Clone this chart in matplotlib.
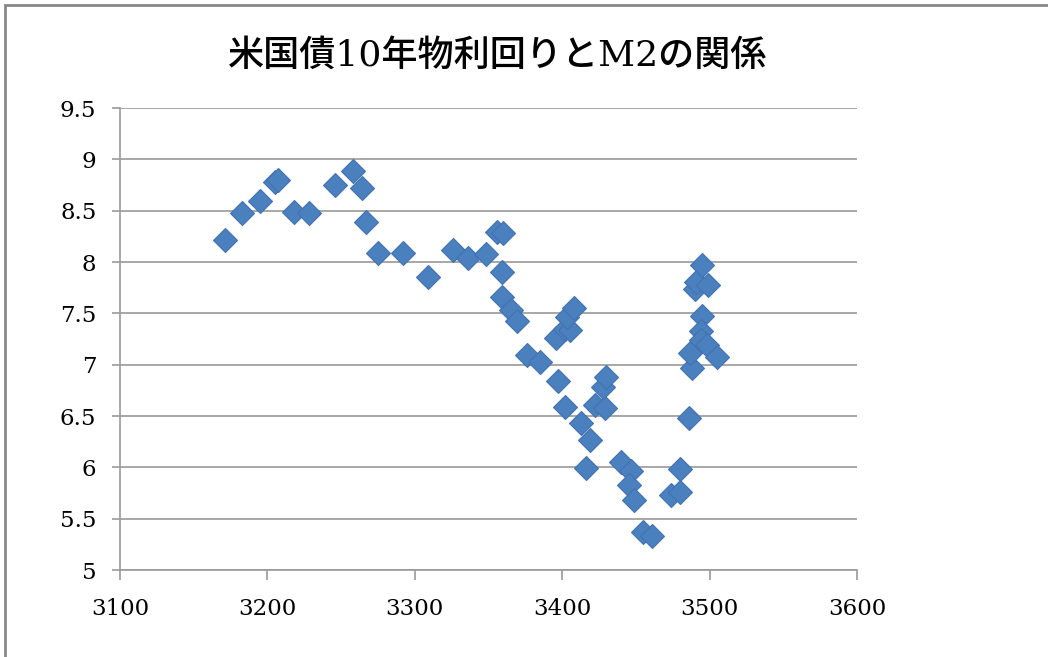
import matplotlib
matplotlib.use("Agg")
import matplotlib.pyplot as plt
from matplotlib.patches import Rectangle

# M2 (x) and 10-year treasury yield (y)
m2 = [3171, 3183, 3195, 3205, 3207, 3218, 3228, 3246, 3258, 3264,
      3267, 3275, 3292, 3309, 3326, 3336, 3348, 3356, 3360, 3359,
      3359, 3365, 3369, 3376, 3385, 3397, 3402, 3396, 3402, 3405,
      3403, 3408, 3413, 3419, 3416, 3422, 3429, 3428, 3430, 3440,
      3447, 3445, 3449, 3455, 3461, 3474, 3480, 3480, 3486, 3488,
      3487, 3490, 3491, 3495, 3499, 3495, 3494, 3494, 3498, 3505]
yields = [8.21, 8.48, 8.59, 8.78, 8.80, 8.49, 8.48, 8.75, 8.89, 8.72,
          8.39, 8.09, 8.09, 7.85, 8.12, 8.04, 8.08, 8.29, 8.28, 7.90,
          7.66, 7.53, 7.43, 7.09, 7.03, 6.84, 6.59, 7.26, 7.35, 7.34,
          7.46, 7.55, 6.43, 6.27, 5.99, 6.61, 6.58, 6.78, 6.88, 6.05,
          5.96, 5.83, 5.68, 5.37, 5.33, 5.73, 5.76, 5.98, 6.48, 6.97,
          7.11, 7.74, 7.81, 7.97, 7.78, 7.47, 7.33, 7.24, 7.19, 7.07]

x_ticks = [3100, 3200, 3300, 3400, 3500, 3600]
y_ticks = [5, 5.5, 6, 6.5, 7, 7.5, 8, 8.5, 9, 9.5]
y_labels = ["5", "5.5", "6", "6.5", "7", "7.5", "8", "8.5", "9", "9.5"]
title = "米国債10年物利回りとM2の関係"

fig = plt.figure(figsize=(10.48, 6.57), dpi=100)
ax = fig.add_axes([120 / 1048, 1 - 570 / 657, 737 / 1048, 462 / 657])

ax.plot(m2, yields, linestyle="none", marker="D", markersize=12.5,
        markerfacecolor="#4B80BE", markeredgecolor="#4272AE",
        markeredgewidth=0.8, zorder=3)

ax.set_xlim(3100, 3600)
ax.set_ylim(5, 9.5)
ax.set_xticks(x_ticks)
ax.set_yticks(y_ticks)
ax.set_yticklabels(y_labels)
ax.yaxis.grid(True, color="#A0A0A0", linewidth=1.3)
ax.set_axisbelow(True)

for s in ["top", "right"]:
    ax.spines[s].set_visible(False)
for s in ["left", "bottom"]:
    ax.spines[s].set_color("#9A9A9A")
    ax.spines[s].set_linewidth(1.2)

ax.tick_params(axis="x", length=7, width=1.2, color="#9A9A9A", pad=13)
ax.tick_params(axis="y", length=6, width=1.2, color="#9A9A9A", pad=11)
for lab in ax.get_xticklabels() + ax.get_yticklabels():
    lab.set_fontfamily("DejaVu Serif")
    lab.set_fontsize(16.5)
    lab.set_color("black")

fig.text(498 / 1048, 1 - 56 / 657, title, ha="center", va="center",
         fontsize=26, fontweight="medium",
         family=["DejaVu Serif", "Noto Sans CJK JP"])

# outer chart border (only top and left visible in the crop)
fig.patches.append(Rectangle((5 / 1048, -0.1), 1.2, 1.1 - 5 / 657,
                             transform=fig.transFigure, fill=False,
                             edgecolor="#878787", linewidth=2))

fig.savefig("out.png", dpi=100)
